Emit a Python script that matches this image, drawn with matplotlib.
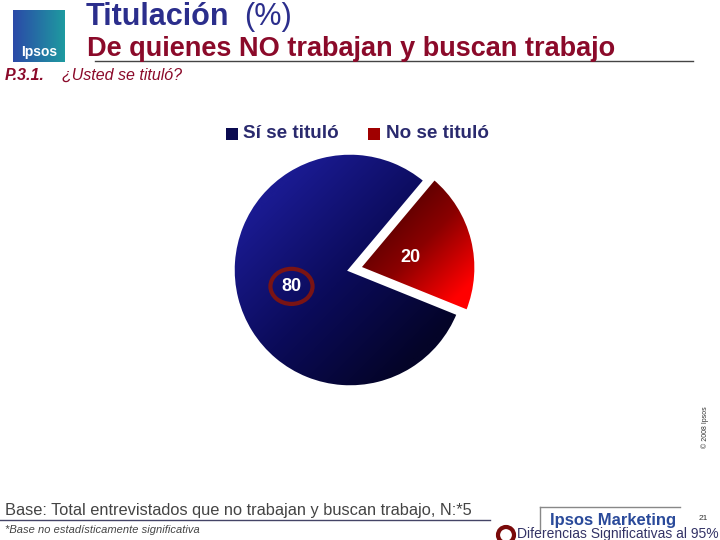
import numpy as np
import matplotlib
matplotlib.use("Agg")
from matplotlib import pyplot as plt
from matplotlib.colors import LinearSegmentedColormap
from matplotlib.patches import Rectangle, Ellipse

plt.rcParams['font.family'] = ['Liberation Sans', 'DejaVu Sans']

labels = ['Sí se tituló', 'No se tituló']
values = [80, 20]
title = 'Titulación'
subtitle = 'De quienes NO trabajan y buscan trabajo'
question = '¿Usted se tituló?'
base_note = 'Base: Total entrevistados que no trabajan y buscan trabajo, N:*5'

navy_cmap = LinearSegmentedColormap.from_list('navy', ['#1a1a90', '#0b0b5a', '#040428'])
red_cmap = LinearSegmentedColormap.from_list('red', ['#4a0000', '#8a0000', '#ff0000'])

fig = plt.figure(figsize=(7.2, 5.4), dpi=100)
W, H = 720, 540

def fx(x):
    return x / W

def fy(y):
    return 1 - y / H

# pie axes
cx, cy = 350, 270
ax = fig.add_axes([fx(cx - 130), fy(cy + 130), 260 / W, 260 / H])
wedges, _ = ax.pie(values, startangle=50, counterclock=True, radius=1.0,
                   explode=[0, 0.08], wedgeprops=dict(edgecolor='white', linewidth=2.5))

# gradient fills clipped to wedges
xx, yy = np.meshgrid(np.linspace(-1.2, 1.2, 300), np.linspace(1.2, -1.2, 300))
navy_grad = np.clip((xx - yy) / 2.6 + 0.5, 0, 1)
red_grad = np.clip(((xx - 0.1) - (yy - 0.3)) / 1.5 + 0.1, 0, 1)
for w, cmap, g in zip(wedges, [navy_cmap, red_cmap], [navy_grad, red_grad]):
    w.set_facecolor('none')
    im = ax.imshow(g, cmap=cmap, extent=[-1.2, 1.2, -1.2, 1.2], zorder=0, vmin=0, vmax=1)
    im.set_clip_path(w)
ax.set_xlim(-1.111, 1.111)
ax.set_ylim(-1.111, 1.111)
ax.set_aspect('equal')
ax.axis('off')

# value labels
ax.text(0.52, 0.11, str(values[1]), color='white', fontsize=13, fontweight='bold',
        ha='center', va='center')
ax.text(-0.5, -0.14, str(values[0]), color='white', fontsize=13, fontweight='bold',
        ha='center', va='center')
ax.add_patch(Ellipse((-0.5, -0.14), 0.36, 0.3, fill=False, edgecolor='#7a1414', linewidth=3))

# legend
fig.patches.append(Rectangle((fx(226), fy(140)), 12 / W, 12 / H, transform=fig.transFigure,
                             facecolor='#0a0a50', edgecolor='none'))
fig.text(fx(243), fy(134), labels[0], fontsize=13.6, fontweight='bold', color='#2a2a6e', va='center')
fig.patches.append(Rectangle((fx(368), fy(140)), 12 / W, 12 / H, transform=fig.transFigure,
                             facecolor='#a00000', edgecolor='none'))
fig.text(fx(386), fy(134), labels[1], fontsize=13.6, fontweight='bold', color='#2a2a6e', va='center')

# header
logo = fig.add_axes([fx(13), fy(62), 52 / W, 52 / H])
lx, ly = np.meshgrid(np.linspace(0, 1, 50), np.linspace(0, 1, 50))
logo.imshow(lx, cmap=LinearSegmentedColormap.from_list('lg', ['#2b4aa8', '#1e9aa0']),
            extent=[0, 1, 0, 1], aspect='auto')
logo.text(0.5, 0.2, 'Ipsos', color='white', fontsize=10, fontweight='bold', ha='center', va='center')
logo.axis('off')

fig.text(fx(86), fy(17), title, fontsize=22, fontweight='bold', color='#2b2e8c', va='center')
fig.text(fx(244), fy(17), '(%)', fontsize=22, color='#2b2e8c', va='center')
fig.text(fx(87), fy(49), subtitle, fontsize=19.5, fontweight='bold', color='#8b0a2a', va='center')
fig.add_artist(plt.Line2D([fx(95), fx(693)], [fy(61), fy(61)], color='#444444', linewidth=1))
fig.text(fx(5), fy(75), 'P.3.1.', fontsize=11.5, fontweight='bold', style='italic', color='#8b0a2a', va='center')
fig.text(fx(62), fy(75), question, fontsize=11.5, style='italic', color='#8b0a2a', va='center')

# footer
fig.text(fx(5), fy(510), base_note, fontsize=11.8, color='#444444', va='center')
fig.add_artist(plt.Line2D([fx(0), fx(490)], [fy(520), fy(520)], color='#444466', linewidth=1))
fig.text(fx(5), fy(530), '*Base no estadísticamente significativa', fontsize=8, style='italic',
         color='#444444', va='center')
fig.add_artist(plt.Line2D([fx(540), fx(680)], [fy(507), fy(507)], color='#888888', linewidth=1))
fig.add_artist(plt.Line2D([fx(540), fx(540)], [fy(507), fy(530)], color='#888888', linewidth=1))
fig.text(fx(613), fy(520), 'Ipsos Marketing', fontsize=12, fontweight='bold', color='#2a4a9a',
         ha='center', va='center')
fig.text(fx(703), fy(518), '21', fontsize=6, color='#333333', ha='center', va='center')
fig.patches.append(Ellipse((fx(506), fy(535)), 16 / W, 16 / H, transform=fig.transFigure,
                           fill=False, edgecolor='#7a0a0a', linewidth=3))
fig.text(fx(517), fy(534), 'Diferencias Significativas al 95%', fontsize=10, color='#333366', va='center')
fig.text(fx(705), fy(427), '© 2008 Ipsos', fontsize=5, color='#333333', rotation=90,
         ha='center', va='center')

fig.savefig('out.png', dpi=100)
